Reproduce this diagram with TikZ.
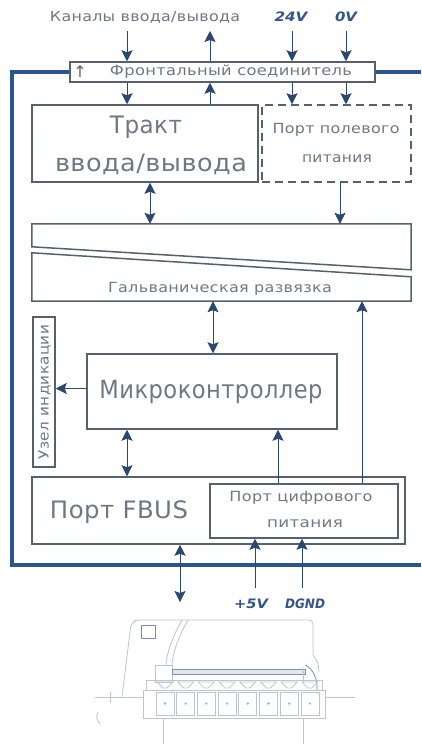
\documentclass[tikz,border=0pt]{standalone}
\usepackage{fontspec}
\usepackage{graphicx}
\setmainfont{DejaVu Sans}
\newfontfamily\gost[LetterSpace=2]{DejaVu Sans}
\usetikzlibrary{arrows.meta,calc}

\definecolor{framec}{HTML}{2A5590}
\definecolor{boxc}{HTML}{56616D}
\definecolor{arrc}{HTML}{2B4872}
\definecolor{txtc}{HTML}{6E7884}
\definecolor{voltc}{HTML}{34558A}
\definecolor{plugc}{HTML}{BCC6D1}
\definecolor{plugd}{HTML}{7A8EB0}

% stretch a label horizontally to a given width, keeping its height
\newcommand\fitw[2]{\resizebox{#1}{\height}{#2}}

\tikzset{
  box/.style={draw=boxc, line width=1.5pt, fill=white, inner sep=0pt},
  lbl/.style={text=txtc, inner sep=0pt, font=\gost\fontsize{14}{14}\selectfont},
  biglbl/.style={text=txtc, inner sep=0pt, font=\gost\fontsize{24}{24}\selectfont},
  vlt/.style={text=voltc, inner sep=0pt, font=\bfseries\itshape\fontsize{13}{13}\selectfont},
  tip/.tip={Stealth[length=11pt,width=11pt,inset=2pt]},
  arr/.style={draw=arrc, line width=0.8pt, -tip},
  darr/.style={draw=arrc, line width=0.8pt, tip-tip},
  plug/.style={draw=plugc, line width=0.8pt},
}

\begin{document}
\begin{tikzpicture}[x=1pt,y=-1pt]
\useasboundingbox (0,0) rectangle (421,744);
\fill[white] (0,0) rectangle (421,744);

% arrow columns
\coordinate (c127) at (127,0);
\coordinate (c150) at (150,0);
\coordinate (c180) at (180,0);
\coordinate (c210) at (210,0);
\coordinate (c213) at (213,0);
\coordinate (c255) at (255,0);
\coordinate (c278) at (278,0);
\coordinate (c292) at (292,0);
\coordinate (c302) at (302,0);
\coordinate (c340) at (340,0);
\coordinate (c346) at (346,0);
\coordinate (c362) at (362,0);
\coordinate (toprow) at (0,31);
\coordinate (botrow) at (0,602);
\coordinate (pwrrow) at (0,588);

% front connector strip and module frame
\node[box, minimum width=305pt, minimum height=20pt] (front) at (222.5,72) {};
\draw[framec, line width=3.2pt] (front.west) -- (12,72) -- (12,565) -- (421,565);
\draw[framec, line width=3.2pt] (front.east) -- (421,72);
\node[text=boxc, inner sep=0pt, font=\fontsize{16}{16}\selectfont] (frontA) at (80,72) {↑};
\node[lbl] (frontT) at (231,72) {\fitw{242pt}{Фронтальный соединитель}};

% top labels
\node[lbl] (kan) at (145,17) {\fitw{190pt}{Каналы ввода/вывода}};
\node[vlt] (v24) at (291,17) {\fitw{33pt}{24V}};
\node[vlt] (v0) at (346,17) {\fitw{22pt}{0V}};

% I/O path and field power port
\node[box, minimum width=226pt, minimum height=77pt] (trakt) at (145,143.5) {};
\node[biglbl] (traktA) at (146,127) {\fitw{72pt}{Тракт}};
\node[biglbl] (traktB) at (151,164) {\fitw{192pt}{ввода/вывода}};
\node[box, dashed, dash pattern=on 8pt off 5pt, minimum width=149pt, minimum height=77pt] (pole) at (336.5,143.5) {};
\node[lbl] (poleA) at (336,130) {\fitw{127pt}{Порт полевого}};
\node[lbl] (poleB) at (337,159) {\fitw{70pt}{питания}};

% galvanic isolation (two wedges)
\node[inner sep=0pt, minimum width=379pt, minimum height=77pt] (galv) at (221.5,262.5) {};
\draw[boxc, line width=1.5pt] (galv.north west) -- (galv.north east) -- ($(galv.north east)+(0,46)$)
  -- ($(galv.north west)+(0,23)$) -- cycle;
\draw[boxc, line width=1.5pt] ($(galv.north west)+(0,29)$) -- ($(galv.north east)+(0,53)$)
  -- (galv.south east) -- (galv.south west) -- cycle;
\node[lbl] (galvT) at (220,289) {\fitw{224pt}{Гальваническая развязка}};

% microcontroller and indication unit
\node[box, minimum width=250pt, minimum height=75pt] (mcu) at (212,391.5) {};
\node[text=txtc, inner sep=0pt, font=\gost\fontsize{25}{25}\selectfont] (mcuT) at (211,392) {\fitw{223pt}{Микроконтроллер}};
\node[box, minimum width=22pt, minimum height=150pt] (ind) at (44,392) {};
\node[lbl, rotate=90] (indT) at (44.5,392) {\fitw{134pt}{Узел индикации}};

% FBUS port and digital power port
\node[box, minimum width=373pt, minimum height=67pt] (fbus) at (218.5,510.5) {};
\node[biglbl] (fbusT) at (119,512) {\fitw{138pt}{Порт FBUS}};
\node[box, minimum width=188pt, minimum height=54pt] (dig) at (304,511) {};
\node[lbl] (digA) at (301,498) {\fitw{143pt}{Порт цифрового}};
\node[lbl] (digB) at (305,524) {\fitw{76pt}{питания}};

% bottom labels
\node[vlt] (p5) at (251,604) {\fitw{34pt}{+5V}};
\node[vlt] (dgnd) at (305,604) {\fitw{40pt}{DGND}};

% connectors
\draw[arr] (c127 |- toprow) -- (c127 |- front.north);
\draw[arr] (c210 |- front.north) -- (c210 |- toprow);
\draw[arr] (c292 |- toprow) -- (c292 |- front.north);
\draw[arr] (c346 |- toprow) -- (c346 |- front.north);
\draw[arr] (c127 |- front.south) -- (c127 |- trakt.north);
\draw[arr] (c210 |- trakt.north) -- (c210 |- front.south);
\draw[arr] (c292 |- front.south) -- (c292 |- pole.north);
\draw[arr] (c346 |- front.south) -- (c346 |- pole.north);
\draw[darr] (c150 |- trakt.south) -- (c150 |- galv.north);
\draw[arr] (c340 |- pole.south) -- (c340 |- galv.north);
\draw[darr] (c213 |- galv.south) -- (c213 |- mcu.north);
\draw[arr] (c362 |- dig.north) -- (c362 |- galv.south);
\draw[arr] (c278 |- dig.north) -- (c278 |- mcu.south);
\draw[darr] (c127 |- mcu.south) -- (c127 |- fbus.north);
\draw[arr] ([yshift=3pt]mcu.west) -- ([yshift=3pt]ind.east |- mcu.west);
\draw[darr] (c180 |- fbus.south) -- (c180 |- botrow);
\draw[arr] (c255 |- pwrrow) -- (c255 |- dig.south);
\draw[arr] (c302 |- pwrrow) -- (c302 |- dig.south);

% plug drawing
\draw[plug, rounded corners=4pt] (122,697) -- (131,624) -- (136,620) -- (313,620) -- (313,655);
\draw[plug] (313,655) .. controls (318,662) .. (319,672);
\draw[plugd, line width=0.8pt] (141,625) rectangle (155,638);
\draw[plug] (188,620) .. controls (178,638) and (173,652) .. (172,665);
\draw[plug] (182,620) .. controls (172,638) and (167,652) .. (166,665);
\draw[plug] (155,665) rectangle (172,682);
\draw[plugd, fill=plugc!40, line width=0.9pt] (172,669) rectangle (305,674);
\draw[plugd, line width=0.8pt] (305,665) .. controls (313,668) and (318,680) .. (317,690);
\draw[plug] (303,668) -- (303,682);
\draw[plug] (143,690) -- (146,690) -- (146,680) -- (322,680) -- (322,690) -- (325,690);
\draw[plug] (143,690) -- (143,718) -- (325,718) -- (325,690);
\draw[plug] (146,690) -- (322,690);
\foreach \i in {0,...,7} {
  \pgfmathsetmacro\cx{165+20.7*\i}
  \draw[plug] (\cx-8,682) -- (\cx+8,682) -- (\cx+2,688) -- (\cx-2,688) -- cycle;
  \draw[plug] (\cx-9,692) rectangle (\cx+9,715);
  \fill[plugd!70] (\cx,703.5) circle (1.3pt);
}
\draw[plug] (95,697) -- (143,697);
\draw[plug] (325,697) -- (355,697);
\draw[plug] (110,692) -- (110,702);
\draw[plug] (100,724) .. controls (96,718) .. (98,712);
\draw[plug] (163,718) -- (163,744);
\draw[plug] (303,718) -- (303,744);
\end{tikzpicture}
\end{document}
